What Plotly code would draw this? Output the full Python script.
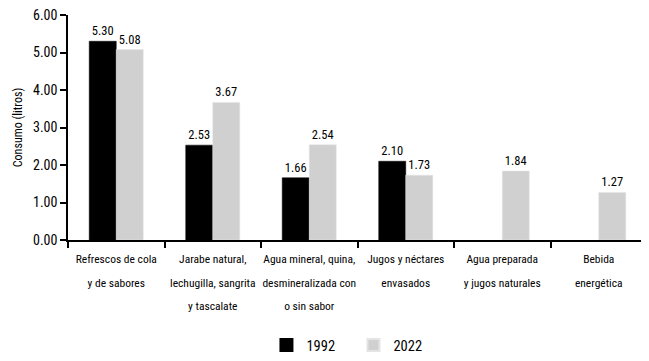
import plotly.graph_objects as go

categories = [
    "Refrescos de cola<br>y de sabores",
    "Jarabe natural,<br>lechugilla, sangrita<br>y tascalate",
    "Agua mineral, quina,<br>desmineralizada con<br>o sin sabor",
    "Jugos y néctares<br>envasados",
    "Agua preparada<br>y jugos naturales",
    "Bebida<br>energética",
]
values_1992 = [5.30, 2.53, 1.66, 2.10, None, None]
values_2022 = [5.08, 3.67, 2.54, 1.73, 1.84, 1.27]
y_ticks = [0, 1, 2, 3, 4, 5, 6]
y_tick_labels = ["0.00", "1.00", "2.00", "3.00", "4.00", "5.00", "6.00"]

FONT = "Roboto Condensed, Liberation Sans Narrow, Roboto, sans-serif"

# wrap each label line in a smaller span so line spacing (based on tickfont size) is wider
x_tick_text = [
    "<br>".join('<span style="font-size:11.5px">%s</span>' % ln for ln in c.split("<br>"))
    for c in categories
]

fig = go.Figure()
fig.add_trace(go.Bar(
    name="1992", x=categories, y=values_1992,
    marker=dict(color="#000000", line=dict(color="#000000", width=0.5)),
    texttemplate="%{y:.2f}", textposition="outside", cliponaxis=False,
    textfont=dict(color="#000000", size=12.5, family=FONT),
))
fig.add_trace(go.Bar(
    name="2022", x=categories, y=values_2022,
    marker=dict(color="#d0d0d0", line=dict(color="#e4e4e4", width=0.5)),
    texttemplate="%{y:.2f}", textposition="outside", cliponaxis=False,
    textfont=dict(color="#000000", size=12.5, family=FONT),
))

# page body adds an 8px offset, so the figure is sized/offset to compensate
fig.update_layout(
    width=641, height=353,
    margin=dict(l=60, r=2, t=7, b=121, autoexpand=False),
    paper_bgcolor="white", plot_bgcolor="white",
    barmode="group", bargap=0.44, bargroupgap=0,
    font=dict(family=FONT, size=12, color="#000000"),
    legend=dict(orientation="h", x=0.493, xanchor="center", yref="container",
                y=0.0, yanchor="bottom",
                font=dict(size=14.5, family=FONT), itemsizing="constant",
                itemwidth=30, entrywidth=42, tracegroupgap=0),
    showlegend=True,
)
fig.update_xaxes(
    tickvals=categories, ticktext=x_tick_text, automargin=False,
    showline=True, linecolor="#000000", linewidth=1.5,
    ticks="outside", tickson="boundaries", ticklen=6, tickcolor="#000000", tickwidth=1.5,
    tickangle=0, tickfont=dict(size=18, family=FONT), showgrid=False,
)
fig.update_yaxes(
    range=[0, 6.001], tickvals=y_ticks, ticktext=y_tick_labels, automargin=False,
    ticklabeloverflow="allow",
    showline=True, linecolor="#000000", linewidth=1.5,
    ticks="outside", ticklen=6, tickcolor="#000000", tickwidth=1.5,
    tickfont=dict(size=14, family=FONT), showgrid=False, zeroline=False,
    title=dict(text="Consumo (litros)", font=dict(size=12, family=FONT), standoff=8),
)

fig.write_html("out.html")
